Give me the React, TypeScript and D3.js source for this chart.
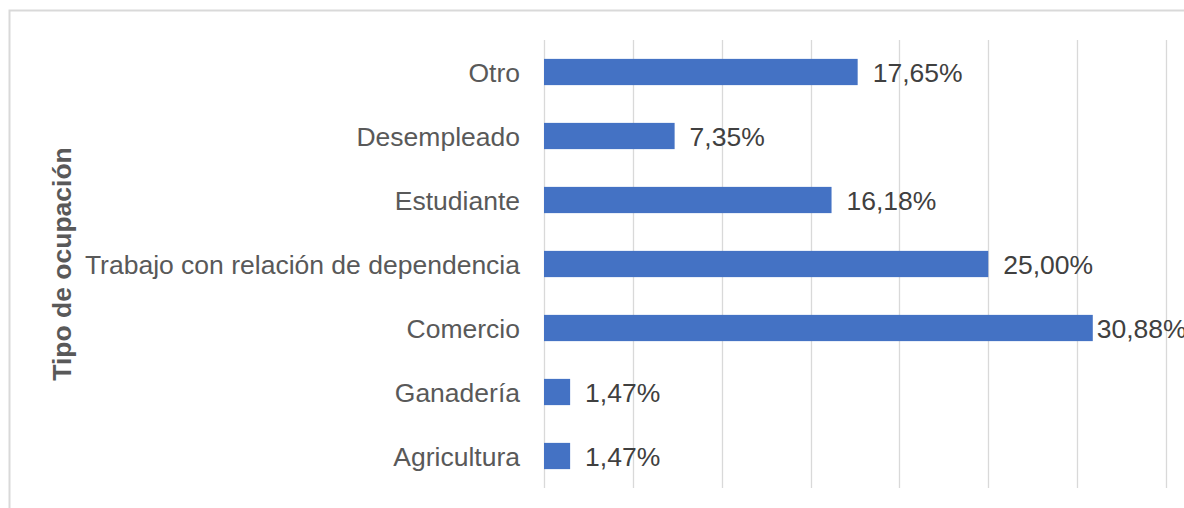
import * as d3 from "d3";
import { useEffect, useRef } from "react";

const categories = [
  "Otro",
  "Desempleado",
  "Estudiante",
  "Trabajo con relación de dependencia",
  "Comercio",
  "Ganadería",
  "Agricultura",
];
const values = [17.65, 7.35, 16.18, 25.0, 30.88, 1.47, 1.47];
const xTicks = [0, 5, 10, 15, 20, 25, 30, 35];
const axisTitle = "Tipo de ocupación";

export default function App() {
  const ref = useRef<SVGSVGElement | null>(null);

  useEffect(() => {
    const width = 1184;
    const height = 508;
    const margin = { top: 40, right: 18, bottom: 20, left: 544 };
    const font = "'Liberation Sans', Arial, sans-serif";
    const fs = 26.5;

    const svg = d3.select(ref.current);
    svg.selectAll("*").remove();
    svg.attr("width", width).attr("height", height).style("background", "#fff");

    // chart frame (only top and left edges visible)
    svg
      .append("path")
      .attr("d", `M9.5,${height} V10.5 H${width}`)
      .attr("fill", "none")
      .attr("stroke", "#d9d9d9")
      .attr("stroke-width", 2);

    const x = d3
      .scaleLinear()
      .domain([0, 35])
      .range([margin.left, 1166]);
    const y = d3
      .scaleBand()
      .domain(categories)
      .range([margin.top, 488])
      .paddingInner(0.59)
      .paddingOuter(0.295);

    // gridlines
    svg
      .append("g")
      .selectAll("line")
      .data(xTicks)
      .join("line")
      .attr("x1", (d) => Math.round(x(d)) + 0.5)
      .attr("x2", (d) => Math.round(x(d)) + 0.5)
      .attr("y1", margin.top)
      .attr("y2", 488)
      .attr("stroke", "#d9d9d9")
      .attr("stroke-width", 1.3);

    const data = categories.map((c, i) => ({ name: c, value: values[i] }));

    svg
      .append("g")
      .selectAll("rect")
      .data(data)
      .join("rect")
      .attr("x", x(0))
      .attr("y", (d) => y(d.name)!)
      .attr("width", (d) => x(d.value) - x(0))
      .attr("height", y.bandwidth())
      .attr("fill", "#4472c4");

    // category labels
    svg
      .append("g")
      .selectAll("text")
      .data(data)
      .join("text")
      .attr("x", 520)
      .attr("y", (d) => y(d.name)! + y.bandwidth() / 2)
      .attr("dy", "0.36em")
      .attr("text-anchor", "end")
      .attr("font-family", font)
      .attr("font-size", fs)
      .attr("fill", "#595959")
      .text((d) => d.name);

    // data labels (pulled closer to the bar when near the right edge)
    svg
      .append("g")
      .selectAll("text")
      .data(data)
      .join("text")
      .attr("x", (d) => (x(d.value) + 100 > width ? x(d.value) + 4 : x(d.value) + 15))
      .attr("y", (d) => y(d.name)! + y.bandwidth() / 2)
      .attr("dy", "0.36em")
      .attr("font-family", font)
      .attr("font-size", fs)
      .attr("fill", "#404040")
      .text((d) => d.value.toFixed(2).replace(".", ",") + "%");

    // y axis title
    svg
      .append("text")
      .attr("transform", `translate(71,${(margin.top + 488) / 2}) rotate(-90)`)
      .attr("text-anchor", "middle")
      .attr("font-family", font)
      .attr("font-size", fs)
      .attr("font-weight", "bold")
      .attr("fill", "#595959")
      .text(axisTitle);
  }, []);

  return (
    <div style={{ position: "absolute", left: 0, top: 0 }}>
      <svg ref={ref} />
    </div>
  );
}
